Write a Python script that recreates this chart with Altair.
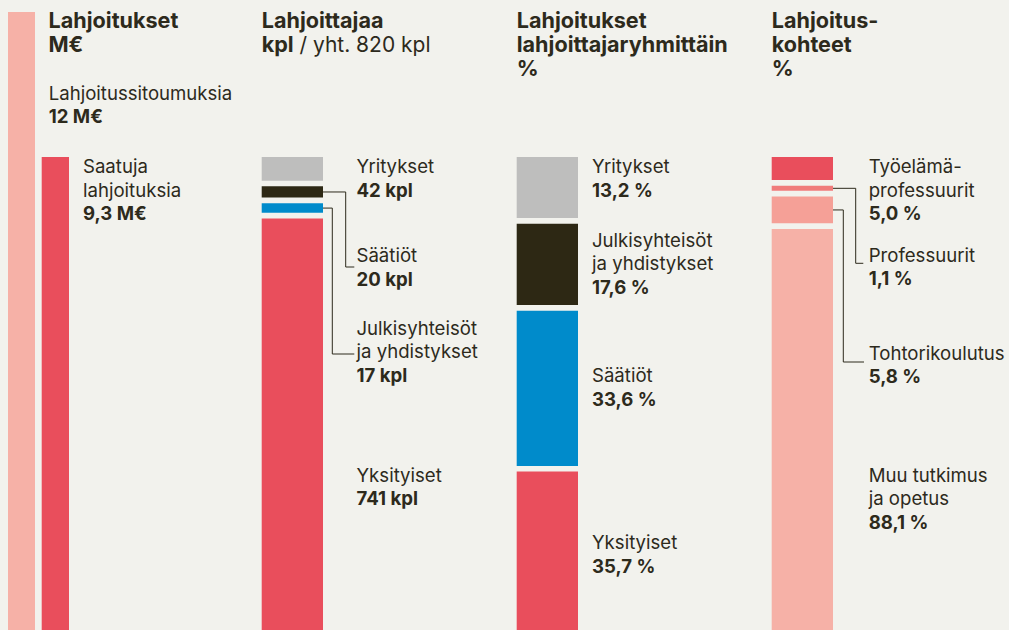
import altair as alt
import pandas as pd

# ---------------- data ----------------
commit_label = "Lahjoitussitoumuksia"
commit_value = 12.0          # M€
received_label = "Saatuja\nlahjoituksia"
received_value = 9.3         # M€

donor_groups = ["Yritykset", "Säätiöt", "Julkisyhteisöt\nja yhdistykset", "Yksityiset"]
donor_counts = [42, 20, 17, 741]
donor_total = 820

share_groups = ["Yritykset", "Julkisyhteisöt\nja yhdistykset", "Säätiöt", "Yksityiset"]
share_values = [13.2, 17.6, 33.6, 35.7]

target_groups = ["Työelämä-\nprofessuurit", "Professuurit", "Tohtorikoulutus", "Muu tutkimus\nja opetus"]
target_values = [5.0, 1.1, 5.8, 88.1]

titles = [["Lahjoitukset", "M€"],
          ["Lahjoittajaa", "kpl"],
          ["Lahjoitukset", "lahjoittajaryhmittäin", "%"],
          ["Lahjoitus-", "kohteet", "%"]]
title_extra = "/ yht. 820 kpl"

# ---------------- style / layout ----------------
BG = "#f2f2ed"
TXT = "#2d2a1c"
GRAY = "#bebebd"
DARK = "#2d2814"
BLUE = "#008bcb"
RED = "#e94e5c"
PINK = "#f6b1a7"
PROF = "#f07b7b"
TOHT = "#f5a097"
FONT = "Inter"
TITLE_SIZE = 21.6
LABEL_SIZE = 18.6

W, H = 1009, 630
COL_STEP = 255.0      # px between columns
X_LEFT = 6.7          # px of first column's left edge
BAR_W = 61.3
K = 4.62              # px per percent unit
TOP = 157.0           # px of the stack top
GAP = 1.23            # gap between stacked segments (units)
M_UNIT = 11.63        # units per M€
LH = 23.4             # label line height px
TLH = 24.3            # title line height px


def xu(col, off_px):
    return col + off_px / COL_STEP


def yu(px):
    return (px - TOP) / K


def fi(v, d):
    return f"{v:.{d}f}".replace(".", ",")


def stack(vals):
    out, y = [], 0.0
    for v in vals:
        out.append((y, y + v))
        y += v + GAP
    return out


bars = []
# column 1: committed vs received
base1 = received_value * M_UNIT
bars.append(dict(x=xu(0, 1.3), x2=xu(0, 28.3), y=base1 - commit_value * M_UNIT, y2=base1, c=PINK))
bars.append(dict(x=xu(0, 35.0), x2=xu(0, 62.3), y=base1 - received_value * M_UNIT, y2=base1, c=RED))

col2_pct = [c / donor_total * 100 for c in donor_counts]
col_defs = [
    (1, stack(col2_pct), [GRAY, DARK, BLUE, RED]),
    (2, stack(share_values), [GRAY, DARK, BLUE, RED]),
    (3, stack(target_values), [RED, PROF, TOHT, PINK]),
]
segs = {}
for col, st, cols in col_defs:
    segs[col] = st
    for (a, b), c in zip(st, cols):
        bars.append(dict(x=xu(col, 0), x2=xu(col, BAR_W), y=a, y2=b, c=c))
bars_df = pd.DataFrame(bars)

# labels
label_rows, value_rows = [], []


def add_label(col, off, first_px, name, value):
    lines = name.split("\n")
    for i, ln in enumerate(lines):
        label_rows.append(dict(x=xu(col, off), y=yu(first_px + i * LH), t=ln))
    value_rows.append(dict(x=xu(col, off), y=yu(first_px + len(lines) * LH), t=value))


add_label(0, 42.0, 100.0, commit_label, fi(commit_value, 0) + " M€")
add_label(0, 76.3, 173.3, received_label, fi(received_value, 1) + " M€")
for g, v, p in zip(donor_groups, donor_counts, [173.3, 262.3, 335.0, 482.0]):
    add_label(1, 94.8, p, g, f"{v} kpl")
for g, v, p in zip(share_groups, share_values, [173.3, 246.7, 382.3, 549.3]):
    add_label(2, 75.3, p, g, fi(v, 1) + " %")
for g, v, p in zip(target_groups, target_values, [173.3, 261.7, 360.0, 482.0]):
    add_label(3, 97.0, p, g, fi(v, 1) + " %")
labels_df = pd.DataFrame(label_rows)
values_df = pd.DataFrame(value_rows)

title_rows = []
title_off = [41.8, 0, 0, 0]
for col, lines in enumerate(titles):
    for i, ln in enumerate(lines):
        title_rows.append(dict(x=xu(col, title_off[col]), y=yu(27.7 + i * TLH), t=ln))
titles_df = pd.DataFrame(title_rows)
extra_df = pd.DataFrame([dict(x=xu(1, 37.8), y=yu(27.7 + TLH), t=title_extra)])

# leader lines
leaders = []
lead_defs = [
    (1, 1, 84.0, 267.0, 92.6),
    (1, 2, 70.6, 354.0, 92.6),
    (3, 1, 84.0, 263.3, 91.6),
    (3, 2, 71.6, 362.0, 92.3),
]
for k, (col, si, elbow, end_px, end_off) in enumerate(lead_defs):
    a, b = segs[col][si]
    mid = (a + b) / 2
    pts = [(xu(col, BAR_W), mid), (xu(col, elbow), mid), (xu(col, elbow), yu(end_px)), (xu(col, end_off), yu(end_px))]
    for j, (px, py) in enumerate(pts):
        leaders.append(dict(x=px, y=py, g=k, o=j))
lead_df = pd.DataFrame(leaders)

xs = alt.Scale(domain=[xu(0, -X_LEFT), xu(0, W - X_LEFT)], nice=False, zero=False)
ys = alt.Scale(domain=[yu(0), yu(H)], nice=False, zero=False, reverse=True)
X = alt.X("x:Q", scale=xs, axis=None)
Y = alt.Y("y:Q", scale=ys, axis=None)

bar_layer = alt.Chart(bars_df).mark_rect(clip=True).encode(
    x=X, x2="x2:Q", y=Y, y2="y2:Q", color=alt.Color("c:N", scale=None)
)
lead_layer = alt.Chart(lead_df).mark_line(color=TXT, strokeWidth=1, clip=True).encode(
    x=X, y=Y, detail="g:N", order="o:Q"
)


def text_layer(df, size, weight):
    return alt.Chart(df).mark_text(
        align="left", baseline="alphabetic", font=FONT, fontSize=size,
        fontWeight=weight, color=TXT
    ).encode(x=X, y=Y, text="t:N")


chart = alt.layer(
    bar_layer,
    lead_layer,
    text_layer(titles_df, TITLE_SIZE, "bold"),
    text_layer(extra_df, TITLE_SIZE - 0.6, "normal"),
    text_layer(labels_df, LABEL_SIZE, "normal"),
    text_layer(values_df, LABEL_SIZE, "bold"),
).properties(
    width=W, height=H, background=BG, padding=0,
    autosize=alt.AutoSizeParams(type="none")
).configure_view(stroke=None)

chart.save("out.html", embed_options={"renderer": "svg", "actions": False})
